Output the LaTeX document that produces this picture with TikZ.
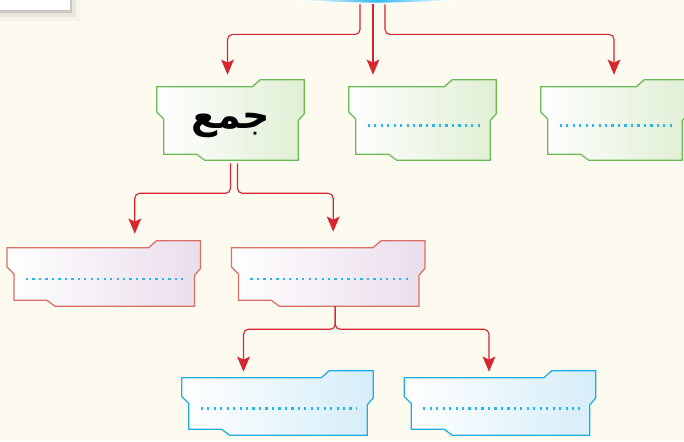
\documentclass[tikz,border=0pt]{standalone}
\usepackage{fontspec}
\newfontfamily\arabicfont[Script=Arabic]{DejaVu Sans}
\TeXXeTstate=1
\usetikzlibrary{arrows.meta,calc,backgrounds,shadows,shapes.geometric}

\definecolor{paper}{RGB}{253,250,240}
\definecolor{arrowred}{RGB}{214,38,48}
\definecolor{greenline}{RGB}{108,186,86}
\definecolor{greenfill}{RGB}{224,239,212}
\definecolor{pinkline}{RGB}{218,112,100}
\definecolor{pinkfill}{RGB}{234,221,236}
\definecolor{blueline}{RGB}{34,172,228}
\definecolor{bluefill}{RGB}{214,237,249}
\definecolor{dotblue}{RGB}{38,184,236}
\definecolor{topicblue}{RGB}{52,184,240}

\pgfdeclarehorizontalshading{topicshade}{100bp}{color(0bp)=(white); color(40bp)=(white);
  color(50bp)=(topicblue); color(60bp)=(white); color(100bp)=(white)}

\pgfdeclarelayer{paper}
\pgfdeclarelayer{background}
\pgfsetlayers{paper,background,main}

% folder outline round a node
\newcommand{\folder}[2]{%
  \path[#2] ($(#1.north west)+(0,7)$) -- ($(#1.north east)+(-52,7)$)
    -- ($(#1.north east)+(-44,0)$) -- (#1.north east)
    -- ($(#1.north east)!.42!(#1.south east)$)
    -- ($(#1.north east)!.42!(#1.south east)+(-6,7)$)
    -- ($(#1.south east)+(-6,0)$) -- ($(#1.south west)+(48,0)$)
    -- ($(#1.south west)+(40,-6)$) -- ($(#1.south west)+(7,-6)$)
    -- ($(#1.north west)!.4!(#1.south west)+(7,7)$)
    -- ($(#1.north west)!.4!(#1.south west)$) -- cycle;
}

\begin{document}
\begin{tikzpicture}[x=0.025cm, y=-0.025cm,
  greenbox/.style={minimum width=3.675cm, minimum height=2cm, inner sep=0pt},
  pinkbox/.style={minimum width=4.825cm, minimum height=1.625cm, inner sep=0pt},
  bluebox/.style={minimum width=4.775cm, minimum height=1.6cm, inner sep=0pt},
  greenfold/.style={draw=greenline, line width=0.9pt, left color=white, right color=greenfill},
  pinkfold/.style={draw=pinkline, line width=0.9pt, left color=white, right color=pinkfill},
  bluefold/.style={draw=blueline, line width=0.9pt, left color=white, right color=bluefill},
  blank/.style={draw=dotblue, line width=1.5pt, dash pattern=on 1.6pt off 3pt},
  arrow/.style={draw=arrowred, line width=0.8pt, rounded corners=3.5pt,
    -{Stealth[length=3.8mm, width=3.2mm, inset=0.8mm]}},
  topic/.style={ellipse, minimum width=9.5cm, minimum height=1.55cm, draw=white,
    line width=0.6pt, shading=topicshade},
  card/.style={fill=white, minimum width=2cm, minimum height=1cm,
    drop shadow={shadow xshift=1.5pt, shadow yshift=-2pt, opacity=.25, fill=black!60},
    drop shadow={shadow xshift=4pt, shadow yshift=-5pt, opacity=.1},
    drop shadow={shadow xshift=7pt, shadow yshift=-8pt, opacity=.05}},
]
\useasboundingbox (0,0) rectangle (684,441);
\begin{pgfonlayer}{paper}
  \fill[paper] (0,0) rectangle (684,441);
\end{pgfonlayer}

\node[card] (card) at (30,-10) {};
\node[topic] (topic) at (377,-28) {};

% === first row ===
\node[greenbox, font=\arabicfont\bfseries\fontsize{27}{30}\selectfont] (g1) at (230.5,120)
  {\raisebox{-0.22cm}[0pt][0pt]{\beginR جمع\endR}};
\node[greenbox] (g2) at (422.5,120) {};
\node[greenbox] (g3) at (614.5,120) {};

% === second row ===
\node[pinkbox] (p1) at (103.8,273.5) {};
\node[pinkbox] (p2) at (328.2,273.5) {};

% === third row ===
\node[bluebox] (b1) at (277.5,403) {};
\node[bluebox] (b2) at (500,403) {};

\begin{scope}[on background layer]
  \foreach \n/\s in {g1/greenfold, g2/greenfold, g3/greenfold, p1/pinkfold, p2/pinkfold,
      b1/bluefold, b2/bluefold}
    {\folder{\n}{\s}}
\end{scope}
\foreach \n in {g2,g3,p1,p2,b1,b2}
  \draw[blank] ($(\n.west)+(19,5.5)$) -- ($(\n.east)+(-16,5.5)$);

% connectors
\draw[arrow] ($(topic.south)+(-17,1)$) -- ++(0,30) -| ($(g1.north)+(-3,-5)$);
\draw[arrow] ($(topic.south)+(-4,1)$) -- ($(g2.north)+(-49.5,-5)$);
\draw[arrow] ($(topic.south)+(8,1)$) -- ++(0,30) -| ($(g3.north)+(-0.5,-5)$);

\draw[arrow] ($(g1.south)+(0,3)$) -- ++(0,30) -| ($(p1.north)+(31,-7)$);
\draw[arrow] ($(g1.south)+(7,3)$) -- ++(0,30) -| ($(p2.north)+(5,-9)$);

\draw[arrow] ($(p2.south)+(7,0)$) -- ++(0,23) -| ($(b1.north)+(-34,1)$);
\draw[arrow] ($(p2.south)+(7,0)$) -- ++(0,23) -| ($(b2.north)+(-11,1)$);

\end{tikzpicture}
\end{document}
